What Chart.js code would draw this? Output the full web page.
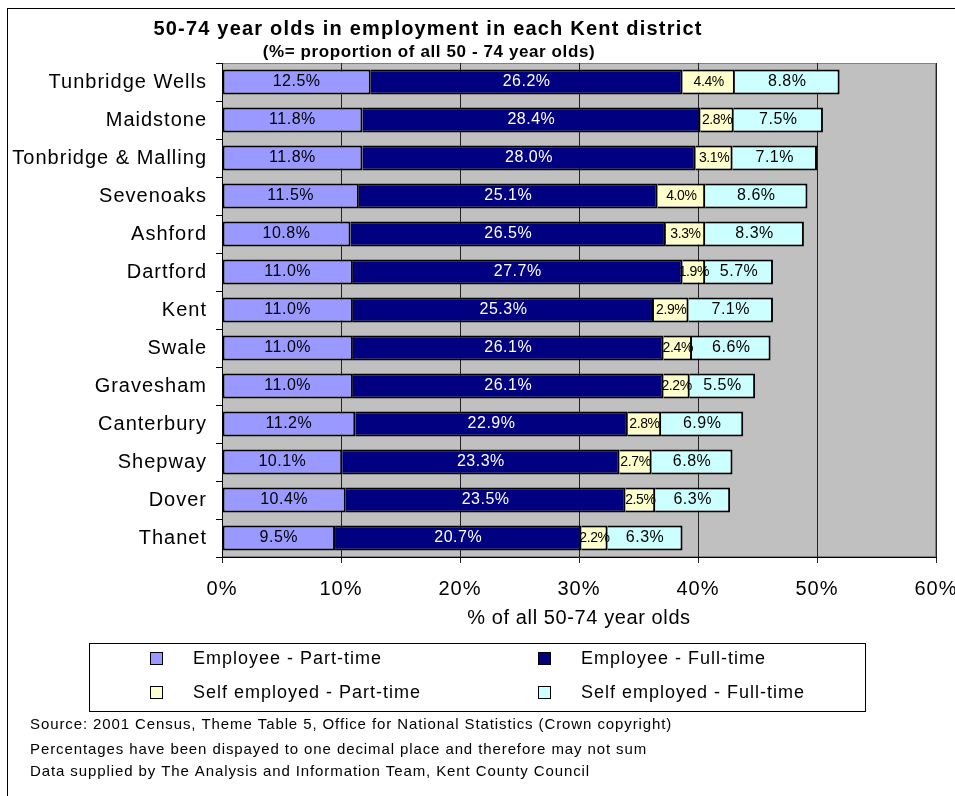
<!DOCTYPE html>
<html>
<head>
<meta charset="utf-8">
<script src="https://cdn.jsdelivr.net/npm/chart.js@4.4.1/dist/chart.umd.min.js"></script>
<style>
  html, body { margin: 0; padding: 0; background: #fff; }
  canvas { display: block; }
</style>
</head>
<body>
<canvas id="chart" width="955" height="796"></canvas>
<script>
// districts, top to bottom
const districts = ['Tunbridge Wells', 'Maidstone', 'Tonbridge & Malling', 'Sevenoaks', 'Ashford',
  'Dartford', 'Kent', 'Swale', 'Gravesham', 'Canterbury', 'Shepway', 'Dover', 'Thanet'];

// % of all 50-74 year olds
const employeePartTime = [12.5, 11.8, 11.8, 11.5, 10.8, 11.0, 11.0, 11.0, 11.0, 11.2, 10.1, 10.4, 9.5];
const employeeFullTime = [26.2, 28.4, 28.0, 25.1, 26.5, 27.7, 25.3, 26.1, 26.1, 22.9, 23.3, 23.5, 20.7];
const selfPartTime = [4.4, 2.8, 3.1, 4.0, 3.3, 1.9, 2.9, 2.4, 2.2, 2.8, 2.7, 2.5, 2.2];
const selfFullTime = [8.8, 7.5, 7.1, 8.6, 8.3, 5.7, 7.1, 6.6, 5.5, 6.9, 6.8, 6.3, 6.3];

const seriesNames = ['Employee - Part-time', 'Employee - Full-time', 'Self employed - Part-time', 'Self employed - Full-time'];
const seriesColours = ['#9999FF', '#000080', '#FFFFCC', '#CCFFFF'];
const labelColours = ['#000', '#fff', '#000', '#000'];
const labelSizes = [16, 16, 14, 16];

const xTicks = [0, 10, 20, 30, 40, 50, 60];

const title = '50-74 year olds in employment in each Kent district';
const subtitle = '(%= proportion of all 50 - 74 year olds)';
const xTitle = '% of all 50-74 year olds';
const notes = [
  'Source: 2001 Census, Theme Table 5, Office for National Statistics (Crown copyright)',
  'Percentages have been dispayed to one decimal place and therefore may not sum',
  'Data supplied by The Analysis and Information Team, Kent County Council'
];

const FONT = '"Liberation Sans", Arial, sans-serif';

const datasets = [employeePartTime, employeeFullTime, selfPartTime, selfFullTime].map((d, i) => ({
  label: seriesNames[i],
  data: d,
  backgroundColor: seriesColours[i],
  borderColor: '#000',
  borderWidth: 2,
  borderSkipped: i === 0 ? false : 'start',
  barPercentage: 0.66,
  categoryPercentage: 1
}));

// grey plot background, spaced-out axis text
const plotBackground = {
  id: 'plotBackground',
  beforeDraw(chart) {
    const { ctx, chartArea: a } = chart;
    ctx.save();
    ctx.fillStyle = '#C0C0C0';
    ctx.fillRect(a.left, a.top, a.right - a.left, a.bottom - a.top);
    ctx.strokeStyle = '#808080';
    ctx.lineWidth = 1;
    ctx.strokeRect(a.left + 0.5, a.top + 0.5, a.right - a.left - 1, a.bottom - a.top - 1);
    ctx.restore();
    ctx.letterSpacing = '1px';
  },
  beforeDatasetsDraw(chart) {
    chart.ctx.letterSpacing = '0px';
  }
};

// value in the middle of each segment
const segmentLabels = {
  id: 'segmentLabels',
  afterDatasetsDraw(chart) {
    const ctx = chart.ctx;
    ctx.save();
    ctx.textAlign = 'center';
    ctx.textBaseline = 'middle';
    chart.data.datasets.forEach((ds, i) => {
      const meta = chart.getDatasetMeta(i);
      ctx.font = labelSizes[i] + 'px ' + FONT;
      ctx.fillStyle = labelColours[i];
      ctx.letterSpacing = i === 2 ? '-0.4px' : '0.5px';
      meta.data.forEach((bar, j) => {
        const x = (bar.x + bar.base) / 2;
        ctx.fillText(ds.data[j].toFixed(1) + '%', x, bar.y);
      });
    });
    ctx.restore();
  }
};

// frame, titles, legend box and notes
const decorations = {
  id: 'decorations',
  afterDraw(chart) {
    const ctx = chart.ctx;
    const a = chart.chartArea;
    ctx.save();
    ctx.strokeStyle = '#000';
    ctx.lineWidth = 1;
    ctx.strokeRect(7.5, 8.5, 960, 800);

    ctx.fillStyle = '#000';
    ctx.textAlign = 'center';
    ctx.textBaseline = 'alphabetic';
    ctx.font = 'bold 20px ' + FONT;
    ctx.letterSpacing = '1.2px';
    ctx.fillText(title, 428, 35);
    ctx.font = 'bold 17px ' + FONT;
    ctx.letterSpacing = '0.6px';
    ctx.fillText(subtitle, 429, 57);

    ctx.font = '20px ' + FONT;
    ctx.letterSpacing = '0.6px';
    ctx.fillText(xTitle, (a.left + a.right) / 2, 624);

    // legend
    ctx.strokeRect(89.5, 643.5, 776, 68);
    ctx.textAlign = 'left';
    ctx.font = '18px ' + FONT;
    ctx.letterSpacing = '1px';
    const cols = [150, 538];
    const rows = [652, 686];
    seriesNames.forEach((name, i) => {
      const cx = cols[i % 2];
      const cy = rows[Math.floor(i / 2)];
      ctx.fillStyle = seriesColours[i];
      ctx.fillRect(cx, cy, 13, 13);
      ctx.strokeStyle = '#000';
      ctx.strokeRect(cx + 0.5, cy + 0.5, 12, 12);
      ctx.fillStyle = '#000';
      ctx.fillText(name, cx + 43, cy + 12);
    });

    ctx.font = '15px ' + FONT;
    ctx.letterSpacing = '0.9px';
    const noteY = [729, 754, 776];
    notes.forEach((t, i) => ctx.fillText(t, 30, noteY[i]));
    ctx.restore();
  }
};

new Chart(document.getElementById('chart'), {
  type: 'bar',
  data: { labels: districts, datasets: datasets },
  options: {
    indexAxis: 'y',
    responsive: false,
    animation: false,
    devicePixelRatio: 1,
    layout: { padding: { top: 63, right: 19, left: 0, bottom: 0 } },
    plugins: {
      legend: { display: false },
      title: { display: false },
      tooltip: { enabled: false }
    },
    scales: {
      x: {
        stacked: true,
        min: 0,
        max: 60,
        afterBuildTicks(scale) {
          scale.ticks = xTicks.map(v => ({ value: v }));
        },
        afterFit(scale) {
          scale.height = 796 - 557;
          scale.paddingLeft = 0;
          scale.paddingRight = 0;
        },
        grid: { color: '#222', lineWidth: 1, tickLength: 6, drawOnChartArea: true },
        border: { color: '#000', width: 1 },
        ticks: {
          color: '#000',
          font: { family: FONT, size: 20 },
          padding: 14,
          maxRotation: 0,
          callback: v => v + '%'
        }
      },
      y: {
        stacked: true,
        afterFit(scale) { scale.width = 222; },
        grid: { drawOnChartArea: false, color: '#000', tickLength: 6, offset: true },
        border: { color: '#000', width: 1 },
        ticks: {
          color: '#000',
          font: { family: FONT, size: 20 },
          padding: 9
        }
      }
    }
  },
  plugins: [plotBackground, segmentLabels, decorations]
});
</script>
</body>
</html>
